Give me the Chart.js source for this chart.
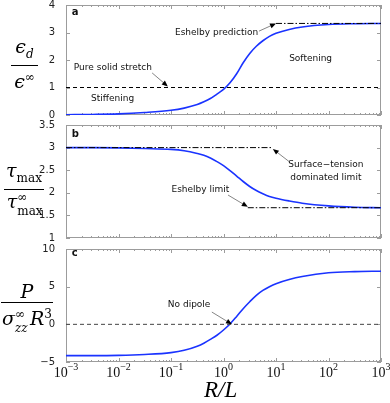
<!DOCTYPE html>
<html>
<head>
<meta charset="utf-8">
<script src="https://cdn.jsdelivr.net/npm/chart.js@4"></script>
<style>
body { margin: 0; background: #fff; width: 390px; height: 403px; overflow: hidden; position: relative; }
canvas { position: absolute; left: 0; }
.math { position: absolute; font-family: "DejaVu Serif", serif; color: #000; display: flex; flex-direction: column; align-items: center; }
.math .bar { align-self: stretch; border-top: 1px solid #000; margin: 1px 0; }
.math .row { line-height: 20px; font-size: 19px; white-space: nowrap; }
.math i { font-style: italic; }
.math sub, .math sup { font-size: 12px; font-style: normal; }
.ss { position: relative; display: inline-block; height: 13px; vertical-align: baseline; }
.ss span { position: absolute; left: 0; font-size: 12px; line-height: 12px; }
.ss .up { top: -4px; }
.ss .dn { top: 10px; }
.xt { position: absolute; font-family: "Liberation Serif", serif; font-style: italic; font-size: 23px; }
</style>
</head>
<body>
<canvas id="panelA" width="390" height="140" style="top:-10px"></canvas>
<canvas id="panelB" width="390" height="143" style="top:110px"></canvas>
<canvas id="panelC" width="390" height="169" style="top:234px"></canvas>

<div class="math" style="left:11px; top:36px; width:27px">
  <div class="row"><i>ϵ</i><sub><i>d</i></sub></div>
  <div class="bar"></div>
  <div class="row"><i>ϵ</i><sup>∞</sup></div>
</div>
<div class="math" style="left:4px; top:160px; width:40px">
  <div class="row"><i>τ</i><sub>max</sub></div>
  <div class="bar"></div>
  <div class="row"><i>τ</i><span class="ss" style="width:24px"><span class="up">∞</span><span class="dn">max</span></span></div>
</div>
<div class="math" style="left:1px; top:281px; width:52px">
  <div class="row"><i>P</i></div>
  <div class="bar"></div>
  <div class="row"><i>σ</i><span class="ss" style="width:15px"><span class="up">∞</span><span class="dn"><i>zz</i></span></span><i>R</i><sup>3</sup></div>
</div>
<div class="xt" style="left:204px; top:377px">R/L</div>

<script>
// sampled radius ratios R/L (log-spaced, denser through the transition)
const rValues = [0.001, 0.00316, 0.01, 0.0316, 0.1, 0.178, 0.316, 0.422, 0.562, 0.750, 1, 1.33, 1.78, 2.37, 3.16, 4.22, 5.62, 7.50, 10, 17.8, 31.6, 100, 316, 1000];
// panel a: eps_d / eps_inf
const strainRatio = [0.01, 0.02, 0.04, 0.09, 0.17, 0.25, 0.38, 0.48, 0.60, 0.76, 0.93, 1.17, 1.50, 1.90, 2.24, 2.50, 2.70, 2.86, 2.97, 3.11, 3.20, 3.29, 3.32, 3.33];
// panel b: tau_max / tau_max_inf
const stressRatio = [3.0, 3.0, 2.995, 2.98, 2.96, 2.93, 2.87, 2.83, 2.77, 2.69, 2.60, 2.49, 2.37, 2.25, 2.14, 2.05, 1.98, 1.92, 1.88, 1.82, 1.77, 1.71, 1.68, 1.67];
// panel c: dipole strength
const dipoleStrength = [-4.15, -4.15, -4.12, -4.0, -3.75, -3.45, -2.9, -2.5, -2.0, -1.45, -0.75, 0.05, 1.05, 2.08, 3.0, 3.85, 4.5, 5.0, 5.4, 5.95, 6.35, 6.85, 7.0, 7.05];

const decadeExps = [-3, -2, -1, 0, 1, 2, 3];

// reference levels
const stretchLevel = 1;
const eshelbyPrediction = 3.33, eshelbyPredictionFrom = 10;
const surfaceLimit = 3, surfaceLimitTo = 8.3;
const eshelbyLimit = 1.67, eshelbyLimitFrom = 2.9;
const noDipoleLevel = 0;

// annotation texts and arrows (in data units)
const notesA = [
  { text: 'a', x: 0.00129, y: 3.72, bold: true },
  { text: 'Eshelby prediction', x: 0.119, y: 2.98 },
  { text: 'Pure solid stretch', x: 0.00141, y: 1.71 },
  { text: 'Stiffening', x: 0.0030, y: 0.58 },
  { text: 'Softening', x: 17.8, y: 2.04 }
];
const arrowsA = [
  { from: [4.74, 3.05], to: [10, 3.33] },
  { from: [0.0437, 1.53], to: [0.087, 1.04] }
];
const notesB = [
  { text: 'b', x: 0.00129, y: 3.3, bold: true },
  { text: 'Surface\u2212tension', x: 89, y: 2.62, align: 'center' },
  { text: 'dominated limit', x: 89, y: 2.34, align: 'center' },
  { text: 'Eshelby limit', x: 0.102, y: 2.08 }
];
const arrowsB = [
  { from: [17.8, 2.69], to: [8.7, 2.97] },
  { from: [1.22, 1.95], to: [2.9, 1.69] }
];
const notesC = [
  { text: 'c', x: 0.00129, y: 9.45, bold: true },
  { text: 'No dipole', x: 0.087, y: 2.56 }
];
const arrowsC = [
  { from: [0.60, 1.63], to: [1.45, 0] }
];

function curve(values) {
  return {
    data: rValues.map((r, i) => ({ x: r, y: values[i] })),
    borderColor: '#1a33ff', borderWidth: 1.6, pointRadius: 0, cubicInterpolationMode: 'monotone'
  };
}

function level(y, from, to, dash, color) {
  return {
    data: [{ x: from, y: y }, { x: to, y: y }],
    borderColor: color || '#000', borderWidth: 1, borderDash: dash, pointRadius: 0
  };
}

const DASH = [4, 3];
const DASHDOT = [6, 2, 1.5, 2];

const decor = {
  id: 'decor',
  beforeDatasetsDraw(chart) {
    const { ctx, chartArea: a, scales: { x, y } } = chart;
    ctx.save();
    ctx.strokeStyle = '#9c9c9c';
    ctx.lineWidth = 1;
    ctx.strokeRect(a.left + 0.5, a.top + 0.5, a.right - a.left - 1, a.bottom - a.top - 1);
    ctx.beginPath();
    for (let k = -3; k <= 3; k++) {
      for (let m = 1; m <= 9; m++) {
        const v = m * Math.pow(10, k);
        if (v > 1000.0001) break;
        const px = Math.round(x.getPixelForValue(v)) + 0.5;
        const len = m === 1 ? 4 : 2;
        ctx.moveTo(px, a.bottom); ctx.lineTo(px, a.bottom - len);
        ctx.moveTo(px, a.top); ctx.lineTo(px, a.top + len);
      }
    }
    y.ticks.forEach(t => {
      const py = Math.round(y.getPixelForValue(t.value)) + 0.5;
      ctx.moveTo(a.left, py); ctx.lineTo(a.left + 4, py);
      ctx.moveTo(a.right, py); ctx.lineTo(a.right - 4, py);
    });
    ctx.stroke();
    ctx.restore();
  },
  afterDraw(chart, args, opts) {
    const { ctx, chartArea: a, scales: { x, y } } = chart;
    ctx.save();
    ctx.fillStyle = '#111';
    ctx.textBaseline = 'middle';
    (opts.notes || []).forEach(n => {
      ctx.font = (n.bold ? 'bold 10px' : '9px') + ' "DejaVu Sans", sans-serif';
      ctx.textAlign = n.align || 'left';
      ctx.fillText(n.text, x.getPixelForValue(n.x), y.getPixelForValue(n.y));
    });
    (opts.arrows || []).forEach(ar => {
      const x0 = x.getPixelForValue(ar.from[0]), y0 = y.getPixelForValue(ar.from[1]);
      const x1 = x.getPixelForValue(ar.to[0]), y1 = y.getPixelForValue(ar.to[1]);
      const ang = Math.atan2(y1 - y0, x1 - x0);
      ctx.strokeStyle = '#666';
      ctx.lineWidth = 0.8;
      ctx.beginPath(); ctx.moveTo(x0, y0); ctx.lineTo(x1 - 4 * Math.cos(ang), y1 - 4 * Math.sin(ang)); ctx.stroke();
      ctx.fillStyle = '#000';
      ctx.beginPath();
      ctx.moveTo(x1, y1);
      ctx.lineTo(x1 - 6 * Math.cos(ang) + 2.5 * Math.sin(ang), y1 - 6 * Math.sin(ang) - 2.5 * Math.cos(ang));
      ctx.lineTo(x1 - 6 * Math.cos(ang) - 2.5 * Math.sin(ang), y1 - 6 * Math.sin(ang) + 2.5 * Math.cos(ang));
      ctx.closePath(); ctx.fill();
      ctx.fillStyle = '#111';
    });
    if (opts.xLabels) {
      decadeExps.forEach(e => {
        const cx = x.getPixelForValue(Math.pow(10, e));
        const base = '10', sup = String(e).replace('-', '\u2212');
        ctx.font = '14px "Liberation Serif", serif';
        const wb = ctx.measureText(base).width;
        ctx.font = '10px "Liberation Serif", serif';
        const ws = ctx.measureText(sup).width;
        const left = cx - (wb + ws) / 2;
        ctx.textAlign = 'left';
        ctx.textBaseline = 'alphabetic';
        ctx.fillStyle = '#111';
        ctx.font = '14px "Liberation Serif", serif';
        ctx.fillText(base, left, a.bottom + 15);
        ctx.font = '10px "Liberation Serif", serif';
        ctx.fillText(sup, left + wb, a.bottom + 8);
      });
    }
    ctx.restore();
  }
};

function makePanel(id, datasets, yMin, yMax, step, notes, arrows, padBottom, xLabels) {
  return new Chart(document.getElementById(id), {
    type: 'line',
    data: { datasets: datasets },
    options: {
      responsive: false,
      animation: false,
      layout: { padding: { left: 0, right: 9, top: 15, bottom: padBottom } },
      plugins: {
        legend: { display: false },
        tooltip: { enabled: false },
        decor: { notes: notes, arrows: arrows, xLabels: xLabels }
      },
      scales: {
        x: { type: 'logarithmic', min: 0.001, max: 1000, display: false },
        y: {
          min: yMin, max: yMax,
          grid: { display: false },
          border: { display: false },
          afterFit: s => { s.width = 66; },
          ticks: {
            stepSize: step, padding: 3, color: '#222',
            font: { family: '"DejaVu Sans", sans-serif', size: 10 },
            callback: v => String(v).replace('-', '\u2212')
          }
        }
      }
    },
    plugins: [decor]
  });
}

makePanel('panelA', [
  level(stretchLevel, 0.001, 1000, DASH),
  level(eshelbyPrediction, eshelbyPredictionFrom, 1000, DASHDOT),
  curve(strainRatio)
], 0, 4, 1, notesA, arrowsA, 15, false);

makePanel('panelB', [
  level(surfaceLimit, 0.001, surfaceLimitTo, DASHDOT),
  level(eshelbyLimit, eshelbyLimitFrom, 1000, DASHDOT),
  curve(stressRatio)
], 1, 3.5, 0.5, notesB, arrowsB, 15, false);

makePanel('panelC', [
  level(noDipoleLevel, 0.001, 1000, DASH, '#444'),
  curve(dipoleStrength)
], -5, 10, 5, notesC, arrowsC, 41, true);
</script>
</body>
</html>
